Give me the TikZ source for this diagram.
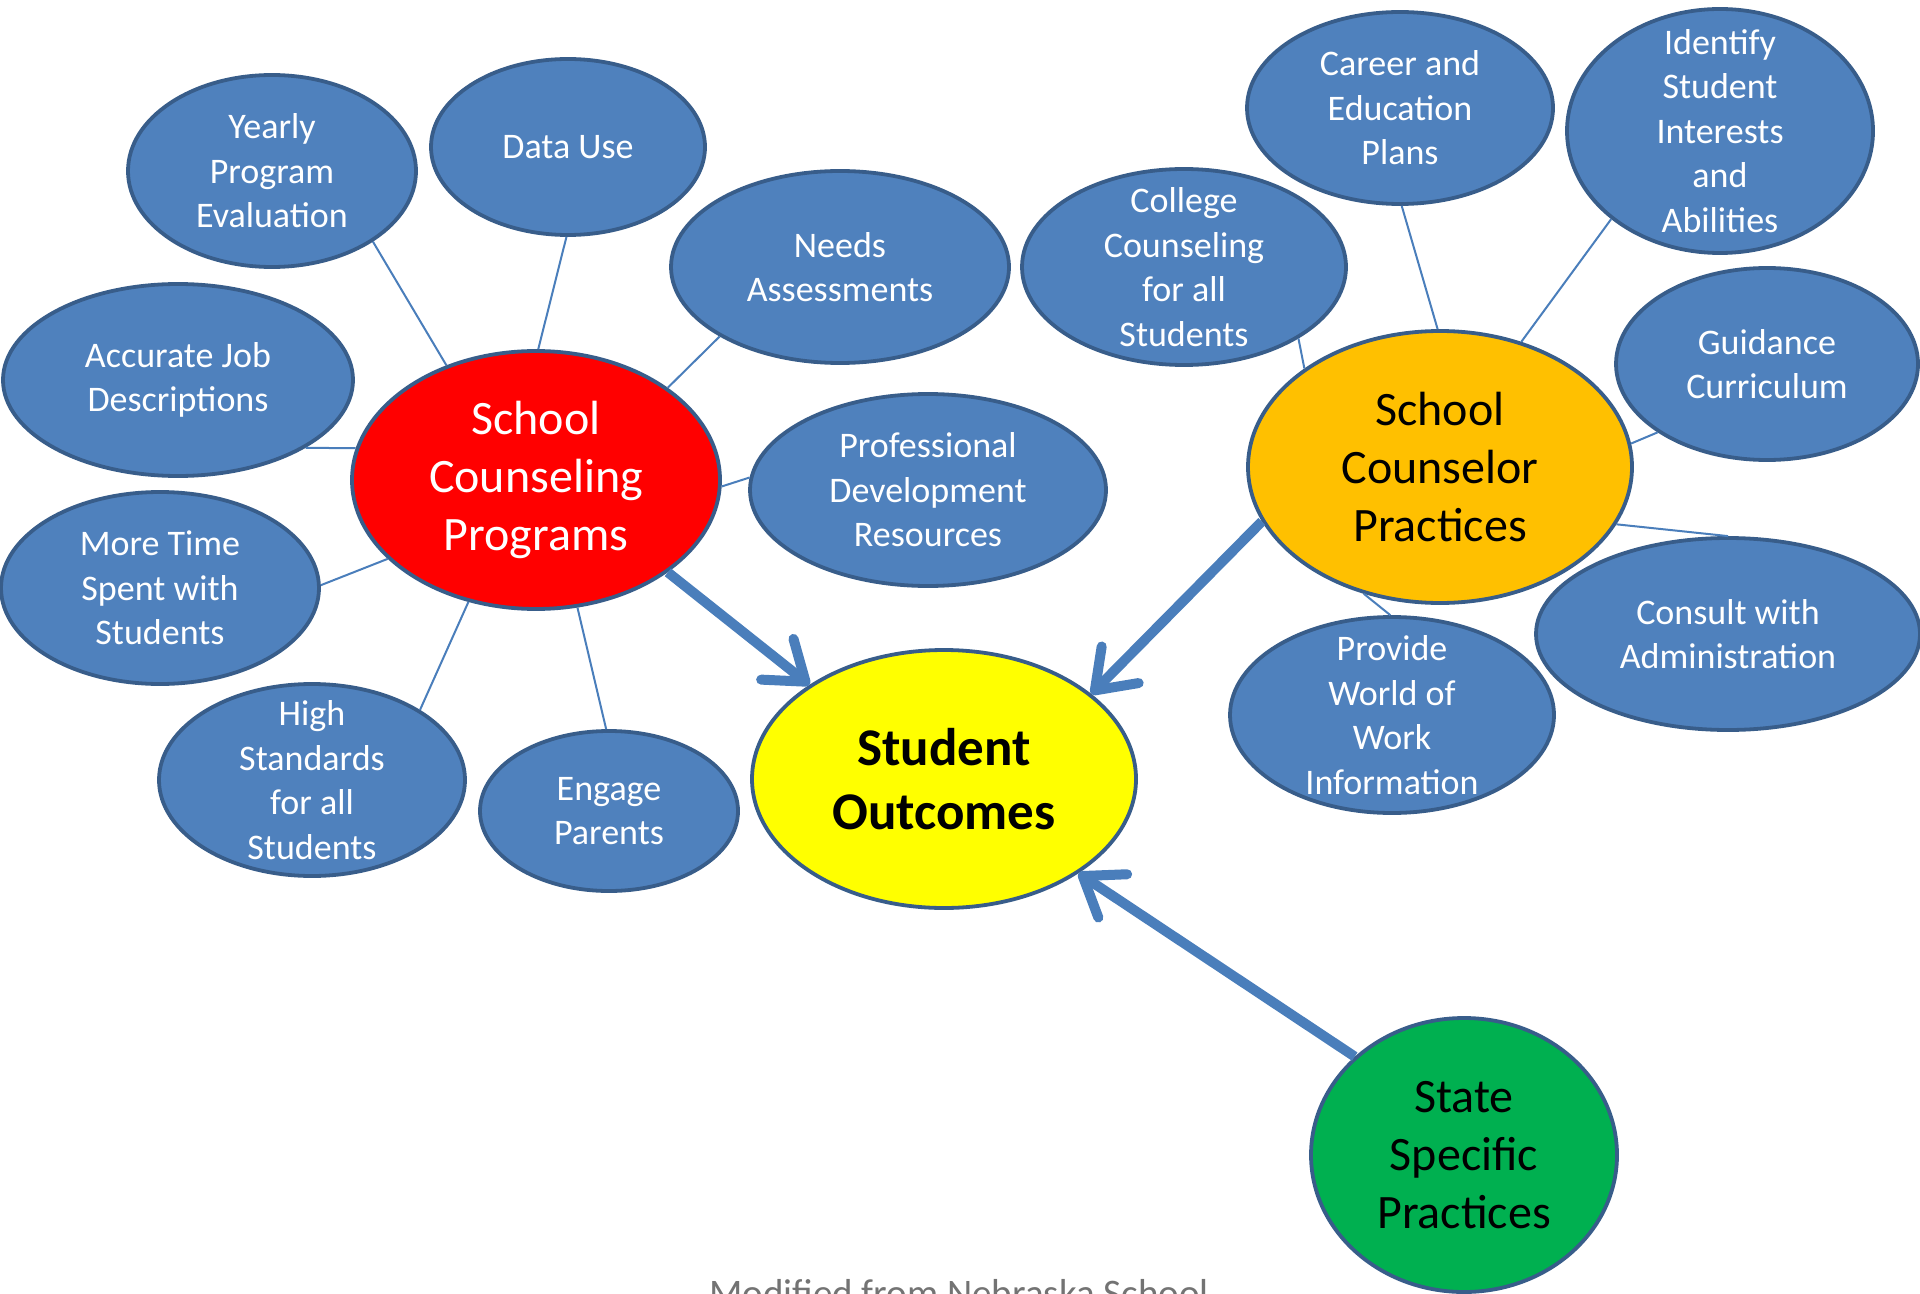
\documentclass[tikz,border=0pt]{standalone}
\usepackage{fontspec}
\setmainfont{Carlito}
\usepackage{tikz}
\usetikzlibrary{shapes.geometric}
\usetikzlibrary{arrows.meta}
\definecolor{bubblefill}{HTML}{4F81BD}
\definecolor{bubblerim}{HTML}{385D8A}
\definecolor{linkblue}{HTML}{4A7EBB}
\definecolor{hubred}{HTML}{FF0000}
\definecolor{hubgold}{HTML}{FFC000}
\definecolor{goalyellow}{HTML}{FFFF00}
\definecolor{stategreen}{HTML}{00B050}
\tikzset{
  bubble/.style={ellipse, draw=bubblerim, fill=bubblefill, line width=1.9pt, inner sep=-15pt, align=center, text=white, font=\fontsize{18}{22.3}\selectfont},
  hub/.style={bubble, font=\fontsize{24}{28.8}\selectfont},
  link/.style={draw=linkblue, line width=1pt},
  feed/.style={draw=linkblue, line width=5pt, ->, >={Straight Barb[length=18pt,width=26pt,round]}},
}

\begin{document}
\begin{tikzpicture}[x=0.5pt, y=-0.5pt]
\useasboundingbox (0,0) rectangle (1920,1294);
\node[bubble, minimum width=144pt, minimum height=96pt] (yearly) at (272,171) {Yearly\\Program\\Evaluation};
\node[bubble, minimum width=137pt, minimum height=88pt] (datause) at (568,147) {Data Use};
\node[bubble, minimum width=169pt, minimum height=96pt] (needs) at (840,267) {Needs\\Assessments};
\node[bubble, minimum width=175pt, minimum height=96pt] (jobdesc) at (178,380) {Accurate Job\\Descriptions};
\node[hub, fill=hubred, minimum width=184pt, minimum height=129pt] (scp) at (536,480) {School\\Counseling\\Programs};
\node[bubble, minimum width=178pt, minimum height=96pt] (profdev) at (928,490) {Professional\\Development\\Resources};
\node[bubble, minimum width=159pt, minimum height=96pt] (moretime) at (160,588) {More Time\\Spent with\\Students};
\node[bubble, minimum width=153pt, minimum height=96pt] (highstd) at (312,780) {High\\Standards\\for all\\Students};
\node[bubble, minimum width=129pt, minimum height=80pt] (parents) at (609,811) {Engage\\Parents};
\node[hub, fill=goalyellow, text=black, font=\fontsize{26.5}{32}\selectfont\bfseries, minimum width=192pt, minimum height=129pt] (outcomes) at (944,779) {Student\\Outcomes};
\node[bubble, minimum width=153pt, minimum height=96pt] (career) at (1400,108) {Career and\\Education\\Plans};
\node[bubble, minimum width=153pt, minimum height=122pt] (interests) at (1720,131) {Identify\\Student\\Interests\\and\\Abilities};
\node[bubble, minimum width=162pt, minimum height=98pt] (college) at (1184,267) {College\\Counseling\\for all\\Students};
\node[bubble, minimum width=151pt, minimum height=96pt] (guidance) at (1767,364) {Guidance\\Curriculum};
\node[hub, fill=hubgold, text=black, minimum width=192pt, minimum height=136pt] (practices) at (1440,467) {School\\Counselor\\Practices};
\node[bubble, minimum width=192pt, minimum height=96pt] (consult) at (1728,634) {Consult with\\Administration};
\node[bubble, minimum width=162pt, minimum height=98pt] (worldwork) at (1392,715) {Provide\\World of\\Work\\Information};
\node[hub, fill=stategreen, text=black, minimum width=153pt, minimum height=137pt] (state) at (1464,1155) {State\\Specific\\Practices};
\node[anchor=north, inner sep=0pt, text=black!55, font=\fontsize{19.5}{23}\selectfont] (credit) at (959,1279) {Modified from Nebraska School};
\foreach \a/\b in {yearly.-35/scp.128, datause.-91/scp.89, needs.-150/scp.35, jobdesc.-28/scp.170,
  scp.-2/profdev.176, moretime.1/scp.-152, highstd.33/scp.-119, parents.92/scp.-72,
  college.-32/practices.144, career.-89/practices.91, interests.-141/practices.57,
  guidance.-148/practices.7, consult.90/practices.-18, worldwork.91/practices.-121} {
 \draw[link] (\a) -- (\b);
}
\draw[feed] (scp.-35) -- (outcomes.145);
\draw[feed] (practices.-163) -- (outcomes.30);
\draw[feed] (state.138) -- (outcomes.-35);
\end{tikzpicture}
\end{document}
